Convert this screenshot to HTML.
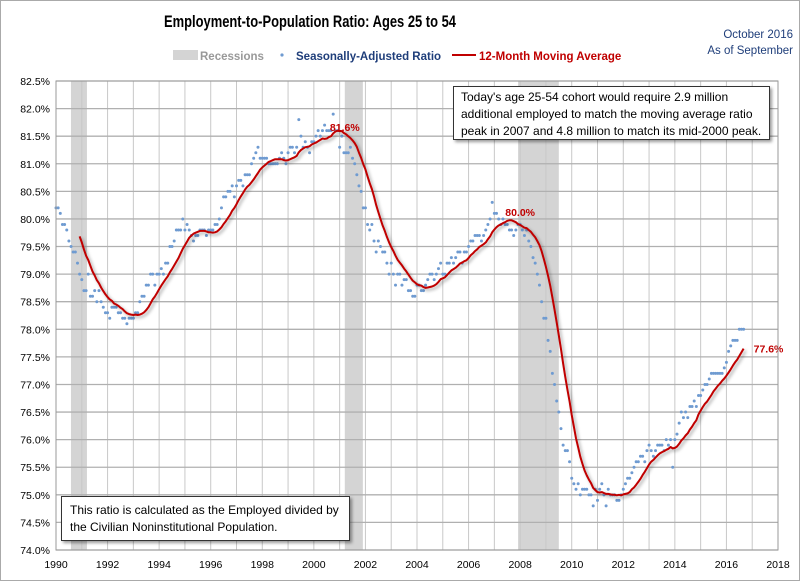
<!DOCTYPE html>
<html><head><meta charset="utf-8">
<style>
body{margin:0;background:#fff;}
#wrap{position:relative;width:800px;height:581px;overflow:hidden;font-family:"Liberation Sans",sans-serif;}
svg text{font-family:"Liberation Sans",sans-serif;}
</style></head>
<body>
<div id="wrap">
<svg id="chart" width="800" height="581" xmlns="http://www.w3.org/2000/svg">
<defs>
<filter id="sh" x="-10%" y="-10%" width="130%" height="140%"><feDropShadow dx="2" dy="2" stdDeviation="1.5" flood-color="#000" flood-opacity="0.35"/></filter>
</defs>
<rect x="0.5" y="0.5" width="799" height="580" fill="#fff" stroke="#aaa"/>
<text x="164" y="27" font-size="17" font-weight="bold" fill="#000" textLength="292" lengthAdjust="spacingAndGlyphs">Employment-to-Population Ratio: Ages 25 to 54</text>
<text x="793" y="38" text-anchor="end" font-size="11.5" fill="#1f3e7a">October 2016</text>
<text x="793" y="54" text-anchor="end" font-size="11.5" fill="#1f3e7a">As of September</text>
<g>
<rect x="173" y="50" width="25" height="10" fill="#d4d4d4"/>
<text x="200" y="60" font-size="11.5" font-weight="bold" fill="#999">Recessions</text>
<circle cx="282" cy="55" r="1.6" fill="#6f9bd1"/>
<text x="296" y="60" font-size="11.5" font-weight="bold" fill="#1f3e7a">Seasonally-Adjusted Ratio</text>
<line x1="452" y1="55" x2="476" y2="55" stroke="#c00000" stroke-width="2"/>
<text x="479" y="60" font-size="11.5" font-weight="bold" fill="#c00000">12-Month Moving Average</text>
</g>
<g id="plot"></g>
</svg>
<div style="position:absolute;left:453px;top:86px;width:317px;height:54px;box-sizing:border-box;border:1px solid #333;background:#fff;box-shadow:2px 2px 3px rgba(0,0,0,0.4);font-size:12px;line-height:17px;padding:2px 0 0 7px;color:#000;">Today's age 25-54 cohort would require 2.9 million additional employed to match the moving average ratio peak in 2007 and 4.8 million to match its mid-2000 peak.</div>
<div style="position:absolute;left:61px;top:496px;width:289px;height:45px;box-sizing:border-box;border:1px solid #333;background:#fff;box-shadow:2px 2px 3px rgba(0,0,0,0.4);font-size:12px;line-height:17px;padding:5px 0 0 8px;color:#000;">This ratio is calculated as the Employed divided by the Civilian Noninstitutional Population.</div>
</div>
<script>
const startYear = 1990;
const saValues = [
80.2,80.2,80.1,79.9,79.9,79.8,79.6,79.5,79.4,79.4,79.2,79.0,
78.9,78.7,78.7,79.0,78.6,78.6,78.7,78.5,78.7,78.5,78.4,78.3,
78.3,78.2,78.4,78.4,78.4,78.3,78.3,78.2,78.2,78.1,78.2,78.2,
78.2,78.3,78.3,78.5,78.6,78.6,78.8,78.8,79.0,79.0,78.8,79.0,
79.0,79.1,79.0,79.2,79.2,79.5,79.5,79.6,79.8,79.8,79.8,80.0,
79.8,79.9,79.8,79.7,79.6,79.7,79.7,79.8,79.8,79.8,79.7,79.8,
79.8,79.8,79.9,79.9,80.0,80.2,80.4,80.4,80.5,80.5,80.6,80.4,
80.6,80.7,80.7,80.6,80.8,80.8,80.8,81.0,81.1,81.2,81.3,81.1,
81.1,81.1,81.1,81.0,81.0,81.0,81.0,81.0,81.1,81.2,81.1,81.0,
81.2,81.3,81.3,81.2,81.3,81.8,81.5,81.3,81.4,81.3,81.2,81.4,
81.4,81.5,81.6,81.5,81.6,81.7,81.6,81.6,81.6,81.9,81.6,81.6,
81.3,81.5,81.2,81.2,81.2,81.3,81.1,81.0,80.8,80.6,80.5,80.2,
80.2,79.9,79.8,79.9,79.6,79.4,79.6,79.5,79.4,79.4,79.2,79.0,
79.2,79.0,78.8,79.0,79.0,78.8,78.9,78.9,78.7,78.7,78.6,78.6,
78.8,78.8,78.7,78.7,78.8,78.9,79.0,79.0,78.9,79.0,79.1,79.2,
79.0,79.0,79.2,79.2,79.3,79.2,79.3,79.4,79.4,79.2,79.4,79.4,
79.5,79.6,79.6,79.7,79.7,79.7,79.6,79.7,79.8,79.9,80.0,80.3,
80.1,80.1,80.0,79.9,80.0,79.9,79.9,79.8,79.8,79.7,79.8,79.9,
79.9,79.8,79.7,79.8,79.6,79.5,79.3,79.2,79.0,78.8,78.5,78.2,
78.2,77.8,77.6,77.2,77.0,76.7,76.5,76.2,75.9,75.8,75.8,75.6,
75.3,75.2,75.1,75.2,75.0,75.1,75.1,75.1,75.0,75.0,74.8,75.1,
74.9,75.1,75.2,75.0,74.8,75.1,75.0,75.0,75.0,74.9,74.9,75.0,
75.1,75.2,75.3,75.3,75.4,75.5,75.6,75.6,75.7,75.7,75.6,75.8,
75.9,75.8,75.7,75.8,75.9,75.9,75.9,75.8,76.0,75.9,76.0,75.5,
76.0,76.1,76.3,76.5,76.4,76.5,76.4,76.6,76.6,76.7,76.6,76.8,
76.8,76.9,77.0,77.0,77.1,77.2,77.2,77.2,77.2,77.2,77.2,77.3,
77.4,77.6,77.7,77.8,77.8,77.8,78.0,78.0,78.0
];
const recessions = [[1990.58,1991.2],[2001.2,2001.9],[2007.92,2009.5]];
const yTicks = [74.0,74.5,75.0,75.5,76.0,76.5,77.0,77.5,78.0,78.5,79.0,79.5,80.0,80.5,81.0,81.5,82.0,82.5];
const xTicks = [1990,1992,1994,1996,1998,2000,2002,2004,2006,2008,2010,2012,2014,2016,2018];
const peakLabels = [["81.6%",2000.7],["80.0%",2007.5]];

const X0=56,X1=778,Y0=550,Y1=81;
const xs = t => X0 + (t-1990)/(2018-1990)*(X1-X0);
const ys = v => Y0 - (v-74)/(82.5-74)*(Y0-Y1);
const NS="http://www.w3.org/2000/svg";
const plot=document.getElementById('plot');
function mk(tag,attrs,parent){const e=document.createElementNS(NS,tag);for(const k in attrs)e.setAttribute(k,attrs[k]);(parent||plot).appendChild(e);return e;}

recessions.forEach(r=>{
  const e=mk('rect',{x:xs(r[0]),y:Y1,width:xs(r[1])-xs(r[0]),height:Y0-Y1,fill:'#d4d4d4'});
  
  
});
for(let y=1990;y<=2018;y++){
  const e=mk('line',{x1:xs(y),x2:xs(y),y1:Y1,y2:Y0,stroke:'#c8c8c8','stroke-width':1});
  
  
}
yTicks.forEach(v=>{
  const e=mk('line',{x1:X0,x2:X1,y1:ys(v),y2:ys(v),stroke:'#b0b0b0','stroke-width':1.3});
  
  
  const t=mk('text',{x:X0-6,y:ys(v)+4,'text-anchor':'end','font-size':10.5,fill:'#000'});
  t.textContent=v.toFixed(1)+'%';
  
  
});
xTicks.forEach(y=>{
  const t=mk('text',{x:xs(y),y:Y0+18,'text-anchor':'middle','font-size':10.5,fill:'#000'});
  t.textContent=y;
  
  
});
saValues.forEach((v,i)=>{
  const e=mk('circle',{cx:xs(startYear+i/12),cy:ys(v),r:1.5,fill:'#6f9bd1'});
  
  
});
let pts=[];
for(let i=11;i<saValues.length;i++){
  let s=0;for(let j=i-11;j<=i;j++)s+=saValues[j];
  pts.push(xs(startYear+i/12).toFixed(1)+','+ys(s/12).toFixed(1));
}
const ma=mk('polyline',{points:pts.join(' '),fill:'none',stroke:'#c00000','stroke-width':2,filter:'url(#sh)','stroke-linejoin':'round'});


peakLabels.forEach(p=>{
  const i=Math.round((p[1]-startYear)*12);
  let s=0;for(let j=i-11;j<=i;j++)s+=saValues[j];
  const t=mk('text',{x:xs(p[1])-2,y:ys(s/12)-5,'font-size':10.5,'font-weight':'bold',fill:'#c00000'});
  t.textContent=p[0];
  
  
});
{
  const n=saValues.length-1;let s=0;for(let j=n-11;j<=n;j++)s+=saValues[j];
  const t=mk('text',{x:xs(startYear+n/12)+10,y:ys(s/12)+4,'font-size':10.5,'font-weight':'bold',fill:'#c00000'});
  t.textContent=(s/12).toFixed(1)+'%';
  
  
}
const fr=mk('rect',{x:X0,y:Y1,width:X1-X0,height:Y0-Y1,fill:'none',stroke:'#999','stroke-width':1});


</script>
</body></html>
